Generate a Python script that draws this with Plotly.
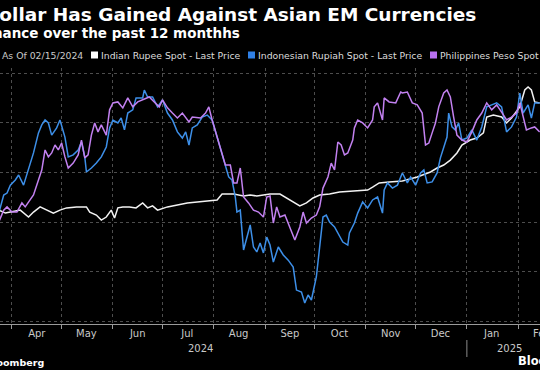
import plotly.graph_objects as go

# ---------------- data ----------------
title = "Dollar Has Gained Against Asian EM Currencies"
subtitle = "Performance over the past 12 monthhs"
as_of = "As Of 02/15/2024"
series_names = ["Indian Rupee Spot - Last Price",
                "Indonesian Rupiah Spot - Last Price",
                "Philippines Peso Spot - Last Price"]

inr_dates = ["2024-03-24","2024-03-28","2024-03-31","2024-04-06","2024-04-11","2024-04-14","2024-04-18","2024-04-22",
             "2024-04-26","2024-04-30","2024-05-04","2024-05-10","2024-05-16","2024-05-18","2024-05-22","2024-05-25",
             "2024-05-28","2024-05-31","2024-06-02","2024-06-04","2024-06-07","2024-06-11","2024-06-15","2024-06-19",
             "2024-06-22","2024-06-25","2024-06-28","2024-07-04","2024-07-10","2024-07-16","2024-07-22","2024-07-28",
             "2024-08-03","2024-08-06","2024-08-13","2024-08-19","2024-08-23","2024-08-27","2024-08-31","2024-09-04",
             "2024-09-10","2024-09-14","2024-09-18","2024-09-22","2024-09-26","2024-09-30","2024-10-04","2024-10-10",
             "2024-10-16","2024-10-24","2024-11-02","2024-11-05","2024-11-09","2024-11-15","2024-11-23","2024-12-02",
             "2024-12-10","2024-12-14","2024-12-18","2024-12-22","2024-12-26","2024-12-29","2025-01-03","2025-01-07",
             "2025-01-11","2025-01-13","2025-01-17","2025-01-22","2025-01-25","2025-01-28","2025-02-02","2025-02-05",
             "2025-02-07","2025-02-09","2025-02-11","2025-02-14"]
inr_vals = [0.48,0.36,0.40,0.48,0.20,0.40,0.61,0.48,
            0.36,0.48,0.57,0.61,0.61,0.40,0.28,0.08,
            0.20,0.48,0.16,0.57,0.61,0.61,0.57,0.77,
            0.57,0.65,0.48,0.61,0.69,0.77,0.81,0.85,
            0.89,1.13,1.13,1.05,1.09,1.05,1.09,1.13,
            1.13,0.97,0.81,0.65,0.77,0.97,1.09,1.13,
            1.21,1.25,1.29,1.41,1.58,1.62,1.66,1.82,
            2.02,2.18,2.30,2.50,2.79,3.11,3.31,3.39,
            3.60,4.24,4.32,4.24,4.00,4.20,4.65,5.33,
            5.45,5.33,4.85,4.81]

idr_dates = ["2024-03-24","2024-03-27","2024-03-29","2024-03-31","2024-04-03","2024-04-05","2024-04-08","2024-04-11",
             "2024-04-14","2024-04-17","2024-04-19","2024-04-21","2024-04-23","2024-04-25","2024-04-28","2024-04-30",
             "2024-05-03","2024-05-05","2024-05-08","2024-05-11","2024-05-13","2024-05-15","2024-05-16","2024-05-19",
             "2024-05-22","2024-05-25","2024-05-28","2024-05-30","2024-06-01","2024-06-04","2024-06-06","2024-06-08",
             "2024-06-10","2024-06-13","2024-06-15","2024-06-19","2024-06-20","2024-06-22","2024-06-25","2024-06-28",
             "2024-07-01","2024-07-04","2024-07-07","2024-07-10","2024-07-13","2024-07-15","2024-07-17","2024-07-19",
             "2024-07-22","2024-07-25","2024-07-28","2024-07-31","2024-08-03","2024-08-06","2024-08-08","2024-08-10",
             "2024-08-12","2024-08-14","2024-08-15","2024-08-17","2024-08-19","2024-08-21","2024-08-23","2024-08-25",
             "2024-08-27","2024-08-29","2024-08-31","2024-09-02","2024-09-04","2024-09-06","2024-09-09","2024-09-12",
             "2024-09-15","2024-09-18","2024-09-20","2024-09-23","2024-09-25","2024-09-27","2024-09-29","2024-10-02",
             "2024-10-04","2024-10-06","2024-10-08","2024-10-10","2024-10-13","2024-10-15","2024-10-18","2024-10-21",
             "2024-10-22","2024-10-25","2024-10-27","2024-10-30","2024-11-02","2024-11-05","2024-11-08","2024-11-11",
             "2024-11-12","2024-11-14","2024-11-17","2024-11-20","2024-11-23","2024-11-26","2024-11-28","2024-12-01",
             "2024-12-04","2024-12-06","2024-12-08","2024-12-11","2024-12-14","2024-12-16","2024-12-18","2024-12-20",
             "2024-12-21","2024-12-23","2024-12-25","2024-12-27","2024-12-29","2025-01-01","2025-01-04","2025-01-07",
             "2025-01-10","2025-01-13","2025-01-16","2025-01-19","2025-01-22","2025-01-25","2025-01-28","2025-01-31",
             "2025-02-02","2025-02-04","2025-02-07","2025-02-09","2025-02-11","2025-02-14"]
idr_vals = [0.36,1.09,1.17,1.49,1.70,1.90,1.49,2.10,
            2.79,3.60,3.92,4.12,4.00,3.51,3.80,4.12,
            3.43,2.63,2.71,2.91,3.23,2.63,2.02,2.18,
            2.38,2.63,3.03,3.80,4.12,4.00,4.20,3.72,
            4.40,4.53,5.01,5.01,5.33,5.05,5.05,4.65,
            4.93,4.40,4.12,3.64,3.39,3.64,3.11,3.80,
            3.92,4.24,4.32,4.12,3.43,2.71,2.22,1.82,
            1.70,1.01,0.40,0.48,-1.13,-0.65,-0.12,-1.01,
            -1.21,-0.85,-1.25,-0.61,-0.93,-1.62,-1.01,-1.33,
            -1.54,-1.82,-2.75,-2.83,-3.27,-2.95,-3.15,-2.22,
            -1.13,0.20,0.28,0.00,-0.20,-0.44,-0.81,-0.93,
            -0.44,-0.04,0.36,0.81,0.57,0.89,1.01,0.36,
            1.29,1.58,1.37,1.49,1.98,1.58,1.82,1.49,
            1.98,2.10,1.58,1.62,1.98,2.59,3.03,3.43,
            4.40,3.84,3.72,4.00,3.31,3.39,3.72,3.31,
            3.84,4.65,4.73,4.81,4.65,3.64,3.84,4.24,
            5.21,4.40,4.73,4.20,4.81,4.81]

php_dates = ["2024-03-24","2024-03-27","2024-03-29","2024-04-01","2024-04-04","2024-04-07","2024-04-09","2024-04-12",
             "2024-04-14","2024-04-17","2024-04-19","2024-04-21","2024-04-23","2024-04-25","2024-04-27","2024-04-29",
             "2024-05-01","2024-05-03","2024-05-05","2024-05-08","2024-05-11","2024-05-13","2024-05-15","2024-05-17",
             "2024-05-19","2024-05-21","2024-05-23","2024-05-25","2024-05-28","2024-05-30","2024-06-01","2024-06-04",
             "2024-06-07","2024-06-10","2024-06-13","2024-06-16","2024-06-19","2024-06-23","2024-06-26","2024-06-29",
             "2024-07-01","2024-07-04","2024-07-07","2024-07-10","2024-07-13","2024-07-17","2024-07-19","2024-07-24",
             "2024-07-27","2024-07-29","2024-07-31","2024-08-03","2024-08-06","2024-08-08","2024-08-11","2024-08-13",
             "2024-08-15","2024-08-17","2024-08-19","2024-08-22","2024-08-25","2024-08-28","2024-08-31","2024-09-02",
             "2024-09-04","2024-09-06","2024-09-08","2024-09-10","2024-09-13","2024-09-16","2024-09-19","2024-09-22",
             "2024-09-24","2024-09-26","2024-09-29","2024-10-02","2024-10-04","2024-10-06","2024-10-09","2024-10-11",
             "2024-10-13","2024-10-15","2024-10-17","2024-10-19","2024-10-21","2024-10-24","2024-10-25","2024-10-27",
             "2024-10-30","2024-11-02","2024-11-05","2024-11-06","2024-11-08","2024-11-11","2024-11-12","2024-11-15",
             "2024-11-19","2024-11-22","2024-11-23","2024-11-26","2024-11-29","2024-12-02","2024-12-05","2024-12-07",
             "2024-12-09","2024-12-11","2024-12-13","2024-12-15","2024-12-18","2024-12-20","2024-12-22","2024-12-24",
             "2024-12-26","2024-12-29","2025-01-01","2025-01-04","2025-01-07","2025-01-10","2025-01-13","2025-01-16",
             "2025-01-19","2025-01-22","2025-01-25","2025-01-28","2025-01-31","2025-02-02","2025-02-04","2025-02-06",
             "2025-02-09","2025-02-11","2025-02-14"]
php_vals = [0.00,0.48,0.61,0.40,0.40,0.77,0.61,0.89,
            1.09,1.70,2.10,2.91,2.63,2.79,3.11,2.91,
            3.19,2.63,2.18,2.38,2.71,3.31,2.59,2.71,
            3.51,4.00,3.64,3.92,3.51,4.53,4.81,4.85,
            4.61,5.01,4.65,4.85,4.93,5.05,4.85,4.65,
            4.93,4.61,4.40,4.20,4.40,4.04,4.24,4.20,
            4.40,4.65,4.12,3.43,2.79,2.30,2.30,1.58,
            1.58,2.18,1.01,0.77,0.48,0.40,0.20,1.01,
            1.05,-0.04,0.61,0.20,0.28,-0.24,-0.73,-0.20,
            0.40,-0.04,0.16,0.28,0.61,1.37,1.82,2.38,
            2.10,3.23,3.11,2.71,2.79,3.31,3.80,4.12,
            4.00,3.80,4.12,4.65,4.81,4.12,5.01,4.85,
            4.81,5.25,5.21,5.25,4.81,4.73,4.40,3.11,
            3.19,3.60,4.00,4.65,5.21,5.33,5.05,4.24,
            3.51,3.31,3.23,3.64,4.12,4.40,4.81,4.53,
            4.73,4.44,4.12,4.24,4.40,4.81,4.24,3.72,
            3.80,3.84,3.64]

month_tick_dates = ["2024-04-16","2024-05-16","2024-06-16","2024-07-16","2024-08-16","2024-09-16",
                    "2024-10-16","2024-11-16","2024-12-16","2025-01-16"]
month_labels = ["Apr","May","Jun","Jul","Aug","Sep","Oct","Nov","Dec","Jan"]
year_labels = ["2024", "2025"]
year_label_dates = ["2024-07-24", "2025-01-27"]

# ---------------- styling ----------------
W, H = 540, 370
MT, MB = 68, 46
PH = H - MT - MB
colors = ["#f2f2f2", "#3d8fe8", "#c281f0"]
square_colors = ["#ffffff", "#2f80e6", "#b86ff0"]
grid_col = "#4d4d4d"
txt_col = "#c9c9c9"
FONT = "DejaVu Sans"


def px_x(px):
    return px / W


def px_y(py):
    return (H - MB - py) / PH


fig = go.Figure()
for name, xs, ys, col in zip(series_names, [inr_dates, idr_dates, php_dates],
                             [inr_vals, idr_vals, php_vals], colors):
    fig.add_trace(go.Scatter(x=xs, y=ys, mode="lines", name=name,
                             line=dict(color=col, width=1.5), showlegend=False))

annotations = []
# title & subtitle
annotations.append(dict(text="<b>" + title + "</b>", x=px_x(478), xanchor="right",
                        y=px_y(14), yanchor="middle", xref="paper", yref="paper",
                        showarrow=False, font=dict(family=FONT, size=18.5, color="#ffffff")))
annotations.append(dict(text="<b>" + subtitle + "</b>", x=px_x(242), xanchor="right",
                        y=px_y(33), yanchor="middle", xref="paper", yref="paper",
                        showarrow=False, font=dict(family=FONT, size=13.5, color="#ffffff")))
# legend row
annotations.append(dict(text=as_of, x=px_x(0), xanchor="left", y=px_y(55), yanchor="middle",
                        xref="paper", yref="paper", showarrow=False,
                        font=dict(family=FONT, size=9.3, color=txt_col)))
legend_text_x = [99, 256, 438]
legend_sq_x = [91, 248, 430]
shapes = []
for name, tx, sx, sc in zip(series_names, legend_text_x, legend_sq_x, square_colors):
    annotations.append(dict(text=name, x=px_x(tx), xanchor="left", y=px_y(55), yanchor="middle",
                            xref="paper", yref="paper", showarrow=False,
                            font=dict(family=FONT, size=9.3, color="#dcdcdc")))
    shapes.append(dict(type="rect", xref="paper", yref="paper",
                       x0=px_x(sx), x1=px_x(sx + 7), y0=px_y(58.5), y1=px_y(51.5),
                       fillcolor=sc, line=dict(width=0)))
# partially visible Feb label
annotations.append(dict(text="Feb", x=px_x(531), xanchor="left", y=px_y(333), yanchor="middle",
                        xref="paper", yref="paper", showarrow=False,
                        font=dict(family=FONT, size=10, color=txt_col)))
# year labels
for yl, yd in zip(year_labels, year_label_dates):
    annotations.append(dict(text=yl, x=yd, xanchor="center", y=px_y(348), yanchor="middle",
                            xref="x", yref="paper", showarrow=False,
                            font=dict(family=FONT, size=10, color=txt_col)))
shapes.append(dict(type="line", xref="x", yref="paper", x0="2025-01-01", x1="2025-01-01",
                   y0=px_y(340), y1=px_y(357), line=dict(color="#8a8a8a", width=1)))
# footer
annotations.append(dict(text="<b>Bloomberg</b>", x=px_x(46), xanchor="right", y=px_y(362), yanchor="middle",
                        xref="paper", yref="paper", showarrow=False,
                        font=dict(family=FONT, size=9.5, color="#ffffff")))
annotations.append(dict(text="<b>Bloomberg</b>", x=px_x(516), xanchor="left", y=px_y(361), yanchor="middle",
                        xref="paper", yref="paper", showarrow=False,
                        font=dict(family=FONT, size=11.5, color="#ffffff")))

fig.update_layout(
    width=W, height=H,
    margin=dict(l=0, r=0, t=MT, b=MB, pad=0),
    paper_bgcolor="#000000", plot_bgcolor="#000000",
    showlegend=False,
    annotations=annotations,
    shapes=shapes,
    xaxis=dict(type="date", range=["2024-03-24 18:00", "2025-02-14 05:00"],
               tickmode="array", tickvals=month_tick_dates, ticktext=month_labels,
               ticks="", showgrid=False, zeroline=False,
               showline=True, linecolor="#9a9a9a", linewidth=1,
               tickfont=dict(family=FONT, size=10, color=txt_col),
               minor=dict(dtick="M1", tick0="2024-01-01", ticks="outside", ticklen=4,
                          tickcolor="#9a9a9a", showgrid=True, gridcolor=grid_col,
                          griddash="dot", gridwidth=1)),
    yaxis=dict(range=[-4.12, 6.22], tick0=0, dtick=2, showgrid=True, gridcolor=grid_col,
               griddash="dot", gridwidth=1, zeroline=False, showticklabels=False,
               showline=False, ticks=""),
)

fig.write_html("out.html",
               config={"displayModeBar": False},
               post_script="document.body.style.margin='0px';document.body.style.background='#000';")
